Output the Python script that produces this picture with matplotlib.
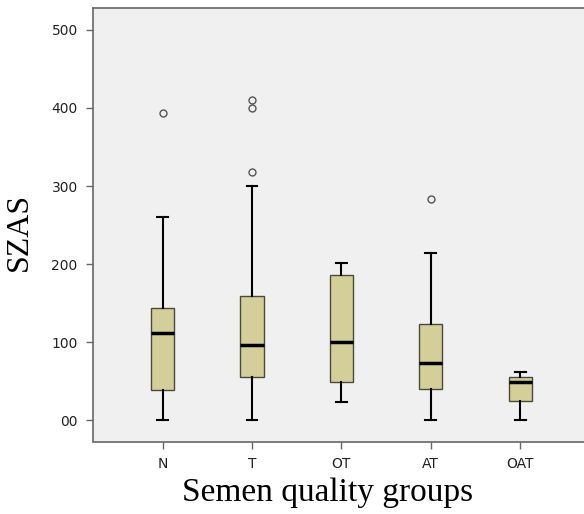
import matplotlib
matplotlib.use('Agg')
from matplotlib import pyplot as plt

# semen quality groups and SZAS box statistics
groups = ['N', 'T', 'OT', 'AT', 'OAT']
whisker_low = [0, 0, 24, 0, 1]
q1 = [39, 56, 49, 40, 25]
median = [112, 96, 100, 73, 49]
q3 = [144, 159, 186, 123, 55]
whisker_high = [260, 300, 202, 214, 62]
outliers = [[394], [318, 400, 410], [], [284], []]

yticks = [0, 100, 200, 300, 400, 500]
ytick_labels = ['00', '100', '200', '300', '400', '500']

stats = []
for i in range(len(groups)):
    stats.append({'label': groups[i], 'whislo': whisker_low[i], 'q1': q1[i],
                  'med': median[i], 'q3': q3[i], 'whishi': whisker_high[i],
                  'fliers': outliers[i]})

fig = plt.figure(figsize=(5.84, 5.14), dpi=100)
ax = fig.add_axes([93/584, 1 - 441.5/514, 1 - 93/584 + 0.01, (441.5 - 8)/514])
ax.set_facecolor('#f0f0f0')

ax.bxp(stats, positions=range(1, 6), widths=0.26, patch_artist=True,
       boxprops=dict(facecolor='#d4cf98', edgecolor='#4a4a38', linewidth=1.0),
       medianprops=dict(color='black', linewidth=2.5),
       whiskerprops=dict(color='black', linewidth=1.5),
       capprops=dict(color='black', linewidth=1.5),
       capwidths=0.12,
       flierprops=dict(marker='o', markerfacecolor='none', markeredgecolor='#555555',
                       markersize=5, markeredgewidth=1.0))

ax.set_xlim(0.22, 5.78)
ax.set_ylim(-27, 528)
ax.set_yticks(yticks)
ax.set_yticklabels(ytick_labels, fontsize=10, color='#222222')
ax.set_xticks(range(1, 6))
ax.set_xticklabels(groups, fontsize=10, color='#222222')
ax.tick_params(direction='out', length=5, color='#666666', width=1, pad=6)
for side in ['left', 'bottom', 'top', 'right']:
    ax.spines[side].set_color('#666666')
    ax.spines[side].set_linewidth(1.2)

ax.set_ylabel('SZAS', fontsize=23, family='Liberation Serif')
ax.yaxis.set_label_coords(-0.12, 0.483)
ax.set_xlabel('Semen quality groups', fontsize=24, family='Liberation Serif')
ax.xaxis.set_label_coords(0.473, -0.083)

plt.savefig('out.png', dpi=100)
